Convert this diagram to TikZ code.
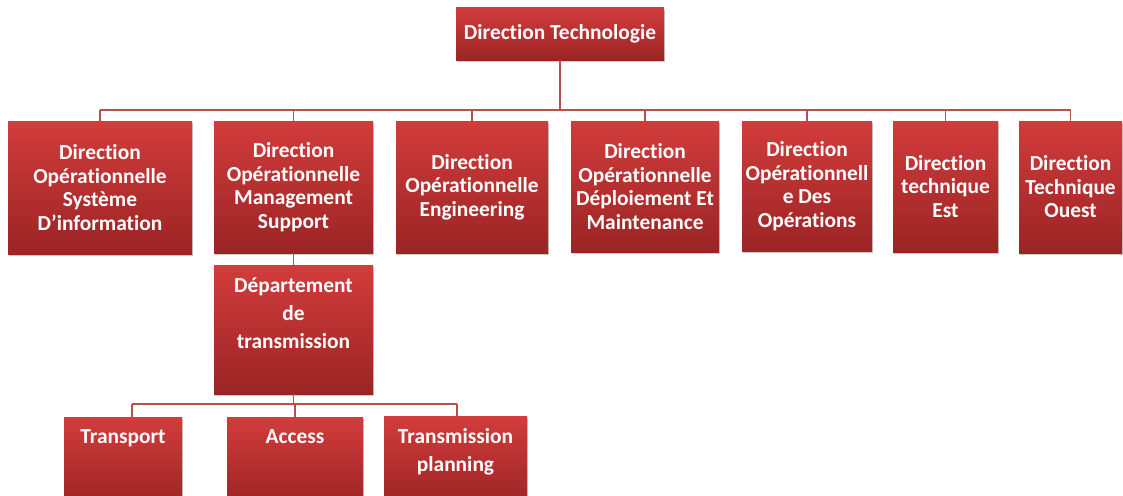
\documentclass[tikz,border=0pt]{standalone}
\usepackage{fontspec}
\setmainfont{Carlito}[Ligatures=NoCommon]
\usetikzlibrary{shadows}
\definecolor{boxtop}{RGB}{210,60,60}
\definecolor{boxbot}{RGB}{155,36,36}
\definecolor{linec}{RGB}{185,80,78}
\tikzset{
  box/.style={top color=boxtop, bottom color=boxbot, draw=none, inner sep=0pt,
    align=center, text=white, font=\fontsize{21.4}{23.5}\selectfont\bfseries,
    drop shadow={shadow xshift=1pt, shadow yshift=-2pt, opacity=0.35, fill=black!60}},
  conn/.style={draw=linec, line width=1.2pt}
}
\begin{document}
\begin{tikzpicture}[x=1pt,y=-1pt]
\clip (0,0) rectangle (1123,495);
\fill[white] (0,0) rectangle (1123,495);
\node[box, minimum width=208pt, minimum height=52pt] (top) at (560,34) {Direction Technologie};
\node[box, minimum width=184pt, minimum height=133pt] (d1) at (100,187.5) {Direction\\Opérationnelle\\Système\\D'information};
\node[box, minimum width=159pt, minimum height=132pt] (d2) at (293.5,187) {Direction\\Opérationnelle\\Management\\Support};
\node[box, minimum width=152pt, minimum height=132pt] (d3) at (472,187) {Direction\\Opérationnelle\\Engineering};
\node[box, minimum width=148pt, minimum height=131pt] (d4) at (645,186.5) {Direction\\Opérationnelle\\Déploiement Et\\Maintenance};
\node[box, minimum width=130pt, minimum height=130pt] (d5) at (807,186) {Direction\\Opérationnell\\e Des\\Opérations};
\node[box, minimum width=105pt, minimum height=131pt] (d6) at (945.5,186.5) {Direction\\technique\\Est};
\node[box, minimum width=103pt, minimum height=132pt] (d7) at (1070.5,187) {Direction\\Technique\\Ouest};
\node[box, anchor=north] (dep) at (293.5,265) {\parbox[t][129pt][t]{159pt}{\centering\fontsize{21.4}{28}\selectfont\vspace*{13pt}Département\\de\\transmission}};
\node[box, anchor=north] (t1) at (123,417) {\parbox[t][90pt][t]{118pt}{\centering\fontsize{21.4}{28}\selectfont\vspace*{12pt}Transport}};
\node[box, anchor=north] (t2) at (295,417) {\parbox[t][90pt][t]{136pt}{\centering\fontsize{21.4}{28}\selectfont\vspace*{12pt}Access}};
\node[box, anchor=north] (t3) at (455.5,416) {\parbox[t][90pt][t]{143pt}{\centering\fontsize{21.4}{28}\selectfont\vspace*{12pt}Transmission\\planning}};
\coordinate (bar) at (560,110);
\coordinate (bar2) at (295,404);
\draw[conn] (top.south) -- (bar);
\draw[conn] (d1.north |- bar) -- (d7.north |- bar);
\foreach \n in {d1,d2,d3,d4,d5,d6,d7}{\draw[conn] (\n.north) -- (\n.north |- bar);}
\draw[conn] (d2.south) -- (dep.north);
\draw[conn] (dep.south) -- (dep.south |- bar2);
\draw[conn] ([xshift=9pt]t1.north |- bar2) -- ([xshift=1.5pt]t3.north |- bar2);
\draw[conn] ([xshift=9pt]t1.north) -- ([xshift=9pt]t1.north |- bar2);
\draw[conn] (t2.north) -- (t2.north |- bar2);
\draw[conn] ([xshift=1.5pt]t3.north) -- ([xshift=1.5pt]t3.north |- bar2);
\end{tikzpicture}
\end{document}
